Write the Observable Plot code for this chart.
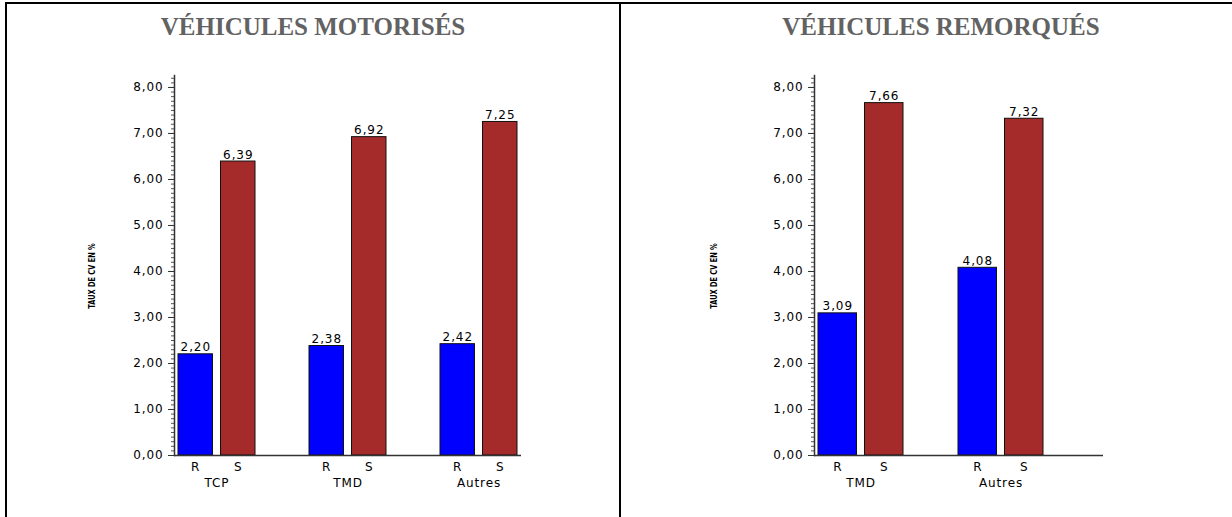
<!DOCTYPE html>
<html>
<head>
<meta charset="utf-8">
<script src="https://cdn.jsdelivr.net/npm/d3@7"></script>
<script src="https://cdn.jsdelivr.net/npm/@observablehq/plot@0.6"></script>
<style>
  html, body { margin: 0; padding: 0; background: #fff; width: 1232px; height: 517px; overflow: hidden; position: relative; }
  .line { position: absolute; background: #000; }
  .title { position: absolute; top: 10px; height: 34px; line-height: 34px; text-align: center;
           font-family: "Liberation Serif", "DejaVu Serif", serif; font-weight: bold; font-size: 25px; color: #626262; white-space: nowrap; }
  .ylab { position: absolute; font-family: "Liberation Sans Narrow", "DejaVu Sans Condensed", sans-serif; font-weight: bold;
          font-size: 9px; color: #000; white-space: nowrap; transform: translate(-50%, -50%) rotate(-90deg) scaleX(0.82); }
  .chart { position: absolute; top: 50px; }
  .chart svg { overflow: visible; max-width: none !important; }
</style>
</head>
<body>
<div class="line" style="left:5px;top:2px;width:1300px;height:2px"></div>
<div class="line" style="left:5px;top:2px;width:2px;height:600px"></div>
<div class="line" style="left:619px;top:2px;width:2px;height:600px"></div>
<div class="title" style="left:7px;width:612px">VÉHICULES MOTORISÉS</div>
<div class="title" style="left:621px;width:640px">VÉHICULES REMORQUÉS</div>
<div class="ylab" style="left:92px;top:276px">TAUX DE CV EN %</div>
<div class="ylab" style="left:714px;top:276px">TAUX DE CV EN %</div>
<div id="left" class="chart" style="left:8px;width:610px"></div>
<div id="right" class="chart" style="left:622px;width:640px"></div>
<script>
// ---- data ----
const seriesNames = ["R", "S"];
const groupsMot = ["TCP", "TMD", "Autres"];
const rMot = [2.20, 2.38, 2.42];
const sMot = [6.39, 6.92, 7.25];
const groupsRem = ["TMD", "Autres"];
const rRem = [3.09, 4.08];
const sRem = [7.66, 7.32];
const yTicks = [0, 1, 2, 3, 4, 5, 6, 7, 8];
const yMinorTicks = d3.range(0, 83).map(i => i / 10);
const colors = {R: "#0000FF", S: "#A52A2A"};

const fmt = d => d3.format(".2f")(d).replace(".", ",");
const FONT = "DejaVu Sans";
const FS = 12;

function chart({groups, r, s, width, marginLeft, marginRight, range, paddingInner}) {
  const rows = [];
  groups.forEach((g, i) => {
    rows.push({group: g, series: seriesNames[0], value: r[i]});
    rows.push({group: g, series: seriesNames[1], value: s[i]});
  });
  const xs = Plot.scale({x: {type: "band", domain: groups, range, paddingInner, paddingOuter: 0}});
  const bw = xs.bandwidth;
  const gap = 8;
  const half = bw / 2 + gap / 2;
  const off = bw / 4 + gap / 4;
  const R = rows.filter(d => d.series === "R");
  const S = rows.filter(d => d.series === "S");
  return Plot.plot({
    width, height: 467,
    marginLeft, marginRight, marginTop: 25, marginBottom: 62,
    style: {background: "transparent", fontFamily: FONT, letterSpacing: "0.9px", overflow: "visible", maxWidth: "none"},
    x: {type: "band", domain: groups, range, paddingInner, paddingOuter: 0, axis: null},
    y: {domain: [0, 8.26], label: null},
    marks: [
      Plot.barY(R, {x: "group", y: "value", fill: colors.R, stroke: "#111", strokeWidth: 1, insetRight: half}),
      Plot.barY(S, {x: "group", y: "value", fill: colors.S, stroke: "#111", strokeWidth: 1, insetLeft: half}),
      Plot.text(R, {x: "group", y: "value", text: d => fmt(d.value), dx: -off, dy: -3, lineAnchor: "bottom", fontSize: FS, fill: "#000"}),
      Plot.text(S, {x: "group", y: "value", text: d => fmt(d.value), dx: off, dy: -3, lineAnchor: "bottom", fontSize: FS, fill: "#000"}),
      Plot.text(R, {x: "group", frameAnchor: "bottom", text: "series", dx: -off, dy: 12, lineAnchor: "middle", fontSize: FS, fill: "#000"}),
      Plot.text(S, {x: "group", frameAnchor: "bottom", text: "series", dx: off, dy: 12, lineAnchor: "middle", fontSize: FS, fill: "#000"}),
      Plot.text(groups, {x: d => d, frameAnchor: "bottom", text: d => d, dy: 28, lineAnchor: "middle", fontSize: FS, fill: "#000"}),
      Plot.axisY({ticks: yMinorTicks, tickSize: 3, tickFormat: () => "", stroke: "#555", strokeWidth: 1, label: null}),
      Plot.axisY({ticks: yTicks, tickSize: 6, tickPadding: 5, tickFormat: fmt, fontSize: FS, fill: "#000", stroke: "#333", label: null}),
      Plot.frame({anchor: "left", stroke: "#333", strokeWidth: 1.5}),
      Plot.ruleY([0], {stroke: "#333", strokeWidth: 1.5})
    ]
  });
}

document.getElementById("left").append(chart({
  groups: groupsMot, r: rMot, s: sMot,
  width: 610, marginLeft: 166, marginRight: 610 - (521 - 8),
  range: [177 - 8, 517 - 8], paddingInner: 0.4144
}));
document.getElementById("right").append(chart({
  groups: groupsRem, r: rRem, s: sRem,
  width: 640, marginLeft: 192, marginRight: 640 - (1103 - 622),
  range: [818 - 622, 1043 - 622], paddingInner: 0.393
}));
</script>
</body>
</html>
